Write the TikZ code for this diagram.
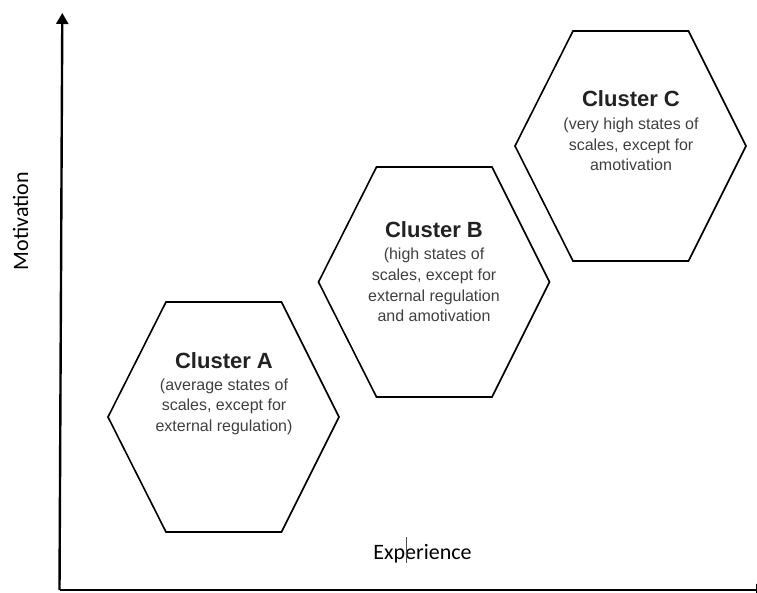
\documentclass[tikz,border=0pt]{standalone}
\usepackage{fontspec}
\setmainfont{Liberation Sans}
\newfontfamily\calib{Carlito}
\usetikzlibrary{arrows.meta}
\definecolor{titlecol}{HTML}{222222}
\definecolor{bodycol}{HTML}{404040}
\tikzset{
  hexline/.style={draw=black,line width=1.6pt,line join=miter},
  axisline/.style={draw=black,line width=2.4pt},
  ctitle/.style={font=\bfseries\fontsize{22}{26}\selectfont,text=titlecol,inner sep=0pt,anchor=base},
  cbody/.style={font=\fontsize{16}{20.5}\selectfont,text=bodycol,inner sep=0pt,align=center,anchor=base},
  axlabel/.style={font=\calib\fontsize{22}{26}\selectfont,text=black,inner sep=0pt,anchor=base}
}
\begin{document}
\begin{tikzpicture}[x=1pt,y=-1pt]
\useasboundingbox (0,0) rectangle (757,593);
\fill[white] (0,0) rectangle (757,593);
% hexagons
\foreach \n/\cx/\cy in {A/223.5/417, B/434/282, C/630.5/146}{
  \draw[hexline] (\cx-115.5,\cy) -- (\cx-57.5,\cy-115) -- (\cx+58,\cy-115)
    -- (\cx+115.5,\cy) -- (\cx+58,\cy+115) -- (\cx-57.5,\cy+115) -- cycle;
}
% texts (body nodes anchored at the baseline of their last line)
\node[ctitle] (tA) at (224,368) {Cluster A};
\node[cbody] (bA) at (224,431) {(average states of\\scales, except for\\external regulation)};
\node[ctitle] (tB) at (434,238) {Cluster B};
\node[cbody] (bB) at (434,321.5) {(high states of\\scales, except for\\external regulation\\and amotivation};
\node[ctitle] (tC) at (631,107) {Cluster C};
\node[cbody] (bC) at (631,171) {(very high states of\\scales, except for\\amotivation};
% axes
\coordinate (O) at (59.5,590);
\coordinate (Ytop) at (62.3,13);
\coordinate (Xend) at (767,590);
\draw[axisline,-{Triangle[width=12pt,length=11pt]}] (O) -- (Ytop);
\draw[axisline,-{Triangle[width=12pt,length=11pt]}] (O) -- (Xend);
% labels
\node[axlabel,rotate=90] (ylab) at (28,221) {Motivation};
\node[axlabel] (xlab) at (422.5,559) {Experience};
\coordinate (cur1) at (406,537);
\coordinate (cur2) at (406,563);
\draw[line width=0.8pt,color=black!70] (cur1) -- (cur2);
\end{tikzpicture}
\end{document}
